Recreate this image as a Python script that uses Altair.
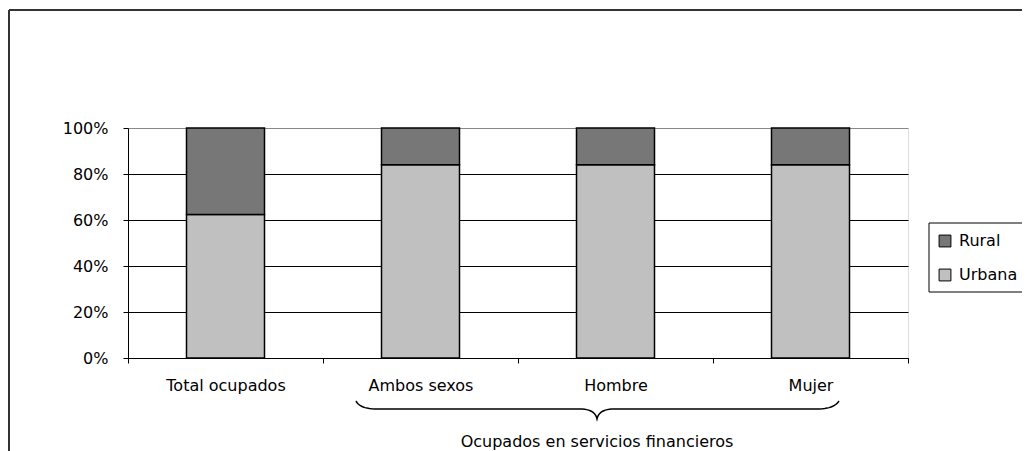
import altair as alt
import pandas as pd

categories = ["Total ocupados", "Ambos sexos", "Hombre", "Mujer"]
urbana = [62.4, 84.0, 84.0, 84.0]
rural = [37.6, 16.0, 16.0, 16.0]
series = ["Rural", "Urbana"]
colors = ["#777777", "#C0C0C0"]
y_ticks = [0, 0.2, 0.4, 0.6, 0.8, 1.0]
group_label = "Ocupados en servicios financieros"

rows = []
for c, u, r in zip(categories, urbana, rural):
    rows.append({"cat": c, "serie": "Urbana", "valor": u, "orden": 0})
    rows.append({"cat": c, "serie": "Rural", "valor": r, "orden": 1})
df = pd.DataFrame(rows)

W, H = 780, 230
LEFT, TOP = 120, 120          # plot origin at page (128, 128)
TOTAL_W, TOTAL_H = 1014, 443
OX, OY = 8 + LEFT, 8 + TOP    # page coords of plot origin
FONT = "DejaVu Sans"
FS = 16

bars = alt.Chart(df).mark_bar(size=78, stroke="black", strokeWidth=1.5).encode(
    x=alt.X("cat:N", sort=categories,
            scale=alt.Scale(paddingInner=0, paddingOuter=0),
            axis=alt.Axis(title=None, labelAngle=0, tickBand="extent",
                          domainColor="black", tickColor="black", tickSize=5,
                          labelPadding=14, labelFont=FONT, labelFontSize=FS,
                          labelColor="black", grid=False)),
    y=alt.Y("valor:Q", stack="normalize", scale=alt.Scale(domain=[0, 1]),
            axis=alt.Axis(title=None, format="%", values=y_ticks,
                          domainColor="black", tickColor="black", tickSize=5,
                          labelPadding=15, labelFont=FONT, labelFontSize=FS,
                          labelColor="black", grid=True,
                          gridColor={"condition": {"test": "datum.value >= 1", "value": "#888888"},
                                     "value": "black"},
                          gridWidth=1)),
    color=alt.Color("serie:N", scale=alt.Scale(domain=series, range=colors),
                    legend=alt.Legend(title=None, orient="none",
                                      legendX=937 - OX, legendY=233 - OY,
                                      padding=0, symbolType="square", symbolSize=140,
                                      symbolStrokeColor="black", symbolStrokeWidth=1,
                                      symbolOpacity=1,
                                      labelFont=FONT, labelFontSize=16, labelColor="black",
                                      rowPadding=18, labelOffset=6)),
    order=alt.Order("orden:Q"),
)

# decorative curly brace below the financial-services categories (page pixel coords)
def quad(p0, c, p2, n=12):
    pts = []
    for i in range(n + 1):
        t = i / n
        x = (1 - t) ** 2 * p0[0] + 2 * (1 - t) * t * c[0] + t ** 2 * p2[0]
        y = (1 - t) ** 2 * p0[1] + 2 * (1 - t) * t * c[1] + t ** 2 * p2[1]
        pts.append((x - OX, y - OY))
    return pts

brace_pts = (quad((356, 401), (360, 409), (377, 409))
             + quad((580, 409), (595, 409), (597, 419))
             + quad((597, 419), (599, 409), (614, 409))
             + quad((817, 409), (834, 409), (839, 401)))
brace_df = pd.DataFrame({"bx": [p[0] for p in brace_pts],
                         "by": [p[1] for p in brace_pts],
                         "i": list(range(len(brace_pts)))})

px = alt.Scale(domain=[0, W], range=[0, W])
py = alt.Scale(domain=[0, H], range=[0, H])

brace = alt.Chart(brace_df).mark_line(color="black", strokeWidth=1.5, clip=False).encode(
    x=alt.X("bx:Q", scale=px, axis=None),
    y=alt.Y("by:Q", scale=py, axis=None),
    order="i:Q",
)

label_df = pd.DataFrame({"t": [group_label]})
label = alt.Chart(label_df).mark_text(font=FONT, fontSize=FS, color="black",
                                      align="center", baseline="alphabetic").encode(
    x=alt.value(597 - OX), y=alt.value(447 - OY), text="t:N")

frame_top = alt.Chart(label_df).mark_rule(color="#333333", strokeWidth=2, clip=False).encode(
    x=alt.value(9 - OX), x2=alt.value(8 + TOTAL_W - OX), y=alt.value(10 - OY))
frame_left = alt.Chart(label_df).mark_rule(color="#333333", strokeWidth=2, clip=False).encode(
    x=alt.value(9 - OX), y=alt.value(10 - OY), y2=alt.value(8 + TOTAL_H - OY))

legend_box = alt.Chart(label_df).mark_rect(fill="white", stroke="black", strokeWidth=1,
                                           clip=False).encode(
    x=alt.value(929 - OX), x2=alt.value(8 + TOTAL_W + 10 - OX),
    y=alt.value(223 - OY), y2=alt.value(292 - OY))

chart = alt.layer(bars, brace, label, frame_top, frame_left, legend_box).resolve_scale(
    x="independent", y="independent"
).properties(
    width=W, height=H,
    autosize=alt.AutoSizeParams(type="none"),
    padding={"left": LEFT, "top": TOP, "right": TOTAL_W - LEFT - W, "bottom": TOTAL_H - TOP - H},
).configure_view(stroke="#888888", strokeWidth=1).configure(background="white")

chart.save("out.html", embed_options={"renderer": "svg", "actions": False})
